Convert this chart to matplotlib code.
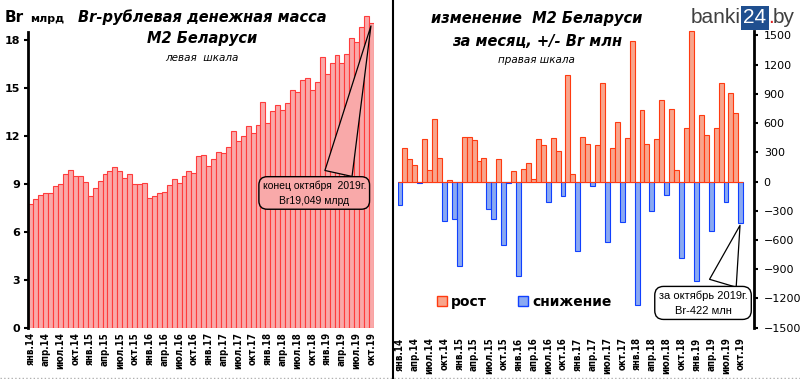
import numpy as np
import matplotlib
matplotlib.use("Agg")
import matplotlib.pyplot as plt
from matplotlib.patches import Patch
from matplotlib.lines import Line2D

# --- data ---
years = [14, 15, 16, 17, 18, 19]
month_names = ["янв", "фев", "мар", "апр", "май", "июн",
               "июл", "авг", "сен", "окт", "ноя", "дек"]
months = [f"{m}.{y}" for y in years for m in month_names][:70]   # янв.14 .. окт.19

# Br-рублевая денежная масса М2, млрд
m2 = [7.73, 8.04, 8.29, 8.42, 8.42, 8.86, 8.98, 9.60, 9.86, 9.48, 9.48, 9.10,
      8.23, 8.73, 9.17, 9.60, 9.79, 10.04, 9.79, 9.36, 9.60, 8.98, 8.98, 9.04,
      8.10, 8.23, 8.42, 8.48, 8.92, 9.29, 9.04, 9.48, 9.79, 9.67, 10.75, 10.79,
      10.13, 10.54, 10.98, 10.92, 11.31, 12.29, 11.67, 11.98, 12.60, 12.19, 12.67, 14.13,
      12.79, 13.54, 13.92, 13.60, 14.04, 14.85, 14.73, 15.48, 15.60, 14.85, 15.35, 16.92,
      15.85, 16.54, 17.04, 16.54, 17.10, 18.10, 17.85, 18.79, 19.48, 19.049]

# изменение за месяц, млн
change = [-240, 340, 230, 165, -15, 440, 115, 640, 245, -400, 15, -380,
          -870, 460, 460, 430, 215, 245, -285, -380, 235, -650, -20, 105,
          -965, 125, 195, 25, 440, 370, -210, 450, 315, -150, 1090, 75,
          -715, 460, 390, -45, 370, 1015, -625, 340, 615, -420, 450, 1440,
          -1270, 730, 380, -305, 440, 835, -140, 740, 115, -780, 545, 1540,
          -1025, 680, 480, -505, 545, 1010, -205, 905, 700, -422]

rost = [max(v, 0) for v in change]
snizh = [min(v, 0) for v in change]

W, H = 800, 379
def fx(px):
    return px / W
def fy(py):
    return 1 - py / H

pink_fc = "#f9a9a9"
pink_ec = "#ff3c3c"
orange_fc = "#f8a58c"
orange_ec = "#ff3a10"
blue_fc = "#8aa9f2"
blue_ec = "#1040ff"

fig = plt.figure(figsize=(8, 3.79), dpi=100)
x = np.arange(len(months))

def month_ticks(ax, pad):
    ax.set_xticks(x[::3])
    ax.set_xticklabels(months[::3], rotation=90, fontsize=7, fontweight="bold",
                       fontstretch="condensed", va="top")
    ax.tick_params(axis="x", length=0, pad=pad)

# ---------------- left panel ----------------
ax1 = fig.add_axes([fx(28.5), fy(328), fx(374) - fx(28.5), fy(8) - fy(328)])
ax1.bar(x, m2, width=1.0, color=pink_fc, edgecolor=pink_ec, linewidth=0.8)
ax1.set_xlim(-0.5, 69.5)
ax1.set_ylim(0, 20)
for s in ["top", "right", "bottom"]:
    ax1.spines[s].set_visible(False)
ax1.spines["left"].set_linewidth(2)
ax1.spines["left"].set_bounds(0, 18.5)
ax1.set_yticks(np.arange(0, 19, 3))
ax1.tick_params(axis="y", direction="out", length=3, width=1.5, labelsize=8, pad=3)
for t in ax1.get_yticklabels():
    t.set_fontweight("bold")
month_ticks(ax1, 3)

ax1.annotate("конец октября  2019г.\nBr19,049 млрд", xy=(69, m2[-1]),
             xytext=(0.827, 0.422), textcoords="axes fraction",
             ha="center", va="center", fontsize=7.5, family="Liberation Sans",
             linespacing=1.6,
             bbox=dict(boxstyle="round,pad=0.35,rounding_size=0.8", fc=pink_fc, ec="black", lw=1),
             arrowprops=dict(arrowstyle="wedge,tail_width=2.0,shrink_factor=0.5",
                             fc=pink_fc, ec="black", lw=0.9, relpos=(0.72, 1.0),
                             mutation_scale=10))

# ---------------- right panel ----------------
ax2 = fig.add_axes([fx(397.5), fy(327.7), fx(754) - fx(397.5), fy(25.6) - fy(327.7)])
ax2.bar(x, snizh, width=1.0, color=blue_fc, edgecolor=blue_ec, linewidth=0.8, label="снижение")
ax2.bar(x, rost, width=1.0, color=orange_fc, edgecolor=orange_ec, linewidth=0.8, label="рост")
ax2.set_xlim(-0.5, 71.67)
ax2.set_ylim(-1500, 1600)
for s in ["top", "left", "bottom"]:
    ax2.spines[s].set_visible(False)
ax2.spines["right"].set_linewidth(2)
ax2.spines["right"].set_bounds(-1500, 1540)
ax2.yaxis.tick_right()
ax2.set_yticks(np.arange(-1500, 1501, 300))
ax2.tick_params(axis="y", direction="out", length=3, width=1.5, labelsize=8, pad=4)
month_ticks(ax2, 7)

ax2.annotate("за октябрь 2019г.\nBr-422 млн", xy=(69, change[-1]),
             xytext=(0.857, 0.082), textcoords="axes fraction",
             ha="center", va="center", fontsize=8, family="Liberation Sans",
             linespacing=1.6,
             bbox=dict(boxstyle="round,pad=0.35,rounding_size=0.8", fc="white", ec="black", lw=1),
             arrowprops=dict(arrowstyle="wedge,tail_width=2.0,shrink_factor=0.5",
                             fc="white", ec="black", lw=0.9, relpos=(0.70, 1.0),
                             mutation_scale=10))

handles = [Patch(fc=orange_fc, ec=orange_ec, lw=1), Patch(fc=blue_fc, ec=blue_ec, lw=1)]
ax2.legend(handles, ["рост", "снижение"], ncol=2, frameon=False,
           loc="center", bbox_to_anchor=(fx(524), fy(302)), bbox_transform=fig.transFigure,
           prop=dict(size=10, weight="bold"), handlelength=0.75, handleheight=0.75,
           handletextpad=0.3, columnspacing=2.2)

# ---------------- titles ----------------
fig.text(fx(5), fy(22), "Br", fontsize=11, fontweight="bold", ha="left", va="baseline")
fig.text(fx(30), fy(22), "млрд", fontsize=8, fontweight="bold", ha="left", va="baseline")

fig.text(fx(202), fy(17), "Br-рублевая денежная масса", fontsize=10.5, fontweight="bold",
         style="italic", ha="center", va="center")
fig.text(fx(202), fy(39), "М2 Беларуси", fontsize=10.5, fontweight="bold",
         style="italic", ha="center", va="center")
fig.text(fx(202), fy(58), "левая  шкала", fontsize=7.5, style="italic", ha="center", va="center")

fig.text(fx(537), fy(18), "изменение  М2 Беларуси", fontsize=10.5, fontweight="bold",
         style="italic", ha="center", va="center")
fig.text(fx(537), fy(41), "за месяц, +/- Br млн", fontsize=10.5, fontweight="bold",
         style="italic", ha="center", va="center")
fig.text(fx(536), fy(60), "правая шкала", fontsize=7.5, style="italic", ha="center", va="center")

# logo
fig.text(fx(741), fy(23), "banki", fontsize=15, color="#404040", family="Liberation Sans",
         ha="right", va="baseline")
fig.text(fx(755), fy(23), "24", fontsize=15, color="white", family="Liberation Sans",
         ha="center", va="baseline",
         bbox=dict(boxstyle="square,pad=0.12", fc="#1f4f8f", ec="none"))
fig.text(fx(768), fy(23), ".", fontsize=15, color="#e02020", family="Liberation Sans",
         ha="left", va="baseline")
fig.text(fx(773), fy(23), "by", fontsize=15, color="#404040", family="Liberation Sans",
         ha="left", va="baseline")

# panel divider and frame
fig.add_artist(Line2D([fx(393), fx(393)], [0, 1], color="black", lw=1.5))
fig.add_artist(Line2D([0, 1], [fy(377.5), fy(377.5)], color="#b0b0b0", lw=1, ls=":"))

fig.savefig("out.png", dpi=100)
